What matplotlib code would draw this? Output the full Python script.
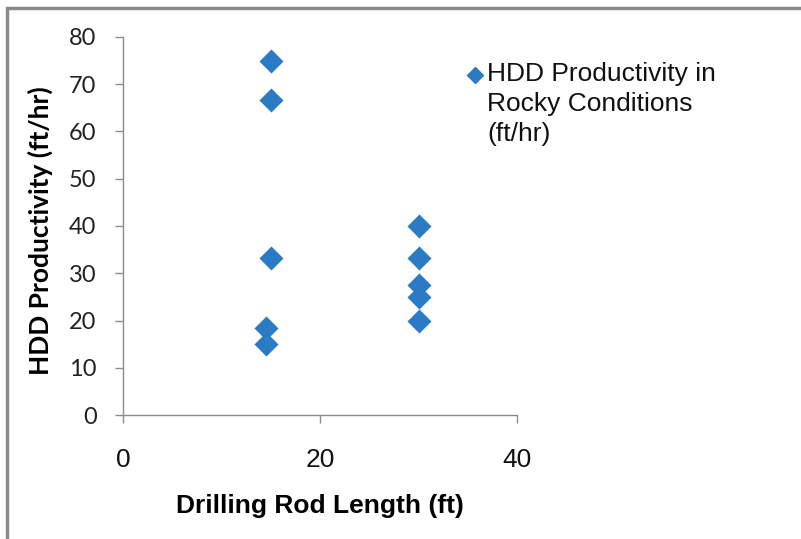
import matplotlib
matplotlib.use('Agg')
import matplotlib.pyplot as plt
from matplotlib.patches import Rectangle
from matplotlib.lines import Line2D

# data
rod_length = [15, 15, 15, 14.5, 14.5, 30, 30, 30, 30, 30]
productivity = [75, 66.7, 33.3, 18.5, 15, 40, 33.3, 27.5, 25, 20]
series_name = 'HDD Productivity in\nRocky Conditions\n(ft/hr)'
x_ticks = [0, 20, 40]
y_ticks = [0, 10, 20, 30, 40, 50, 60, 70, 80]

blue = '#2A7BC4'
grey = '#8C8C8C'

fig = plt.figure(figsize=(8.01, 5.39), dpi=100)
fig.patch.set_facecolor('white')
# outer chart frame (cut at right and bottom in the original)
fig.patches.append(Rectangle((7/801, -0.1), 1.2, 1 - 8/539 + 0.1,
                             transform=fig.transFigure, fill=False,
                             edgecolor='#8a8a8a', linewidth=2.5))

ax = fig.add_axes([123/801, 1 - 415/539, 394/801, 378/539])
ax.scatter(rod_length, productivity, marker='D', s=150, color=blue,
           linewidths=0, zorder=3, clip_on=False)

ax.set_xlim(0, 40)
ax.set_ylim(0, 80)
ax.set_xticks(x_ticks)
ax.set_yticks(y_ticks)
for s in ['top', 'right']:
    ax.spines[s].set_visible(False)
for s in ['left', 'bottom']:
    ax.spines[s].set_color(grey)
    ax.spines[s].set_linewidth(1)
ax.tick_params(axis='both', direction='out', length=6, width=1, color=grey)
ax.tick_params(axis='y', pad=13, labelsize=17, labelcolor='#222222')
ax.tick_params(axis='x', pad=18, labelsize=19, labelcolor='#111111')
for lbl in ax.get_yticklabels():
    lbl.set_family('Lato')
for lbl in ax.get_xticklabels():
    lbl.set_family('Liberation Sans')

ax.set_xlabel('Drilling Rod Length (ft)', fontsize=19, fontweight='bold',
              family='Liberation Sans', va='center', ha='center')
ax.xaxis.set_label_coords(0.5, -0.241)
ax.set_ylabel('HDD Productivity (ft/hr)', fontsize=19, fontweight='bold',
              family='Lato', va='center', ha='center')
ax.yaxis.set_label_coords(-0.211, 0.489)

# legend drawn by hand so the marker sits on the first line, as in Excel
fig.lines.append(Line2D([475/801], [1 - 75/539], transform=fig.transFigure,
                        marker='D', markersize=8, color=blue, linestyle='none'))
fig.text(487/801, 1 - 62/539, series_name, family='Liberation Sans',
         fontsize=19, color='#111111', ha='left', va='top',
         linespacing=1.32)

fig.savefig('out.png', dpi=100)
